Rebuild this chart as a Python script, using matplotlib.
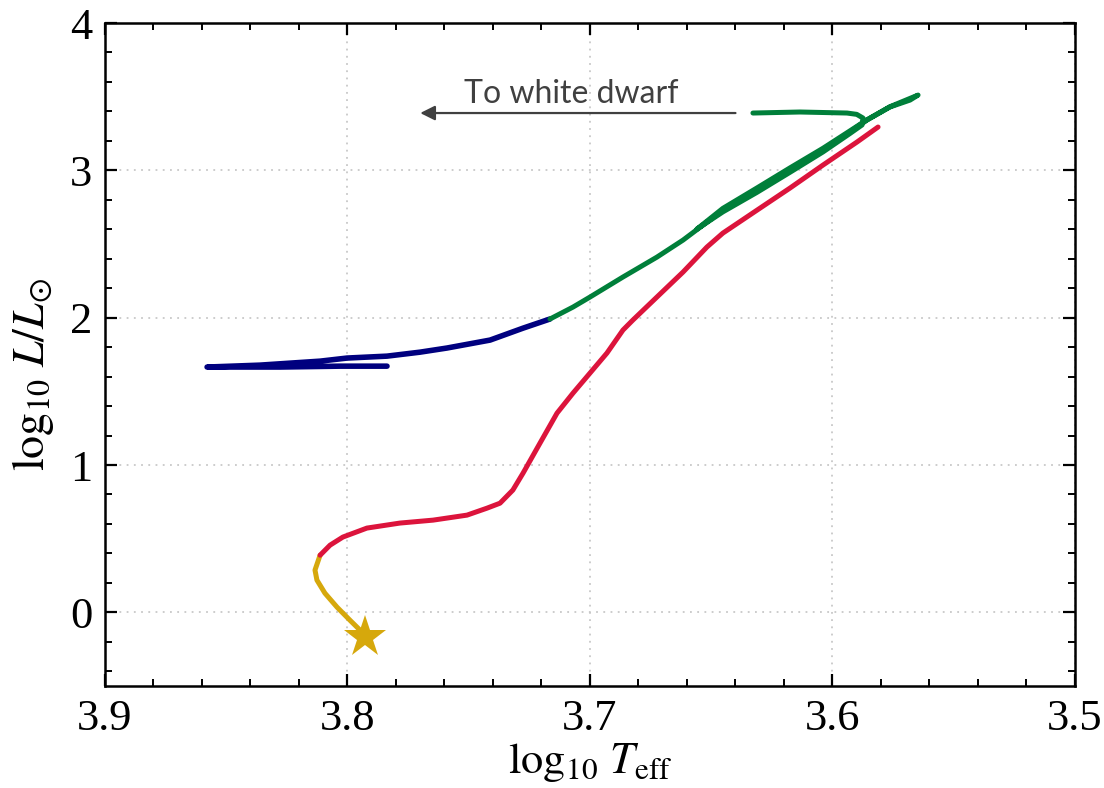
import numpy as np
import matplotlib
matplotlib.use('Agg')
import matplotlib.pyplot as plt
from matplotlib.ticker import MultipleLocator

# ── track data (log Teff, log L) ──────────────────────────────────────
# pre-main sequence -> ZAMS (yellow)
pms_logT = [3.7928, 3.7940, 3.7990, 3.8043, 3.8093, 3.8126, 3.8134, 3.8113]
pms_logL = [-0.168, -0.134, -0.053, 0.035, 0.130, 0.219, 0.287, 0.388]

# main sequence + red giant branch (red)
rgb_logT = [3.8113, 3.8072, 3.8019, 3.7920, 3.7784, 3.7647, 3.7507, 3.7425,
            3.7371, 3.7318, 3.7276, 3.7206, 3.7136, 3.7070, 3.7000, 3.6930,
            3.6864, 3.6823, 3.6724, 3.6616, 3.6518, 3.6452, 3.6311, 3.6175,
            3.6039, 3.5899, 3.5812]
rgb_logL = [0.388, 0.456, 0.511, 0.572, 0.606, 0.626, 0.660, 0.707,
            0.741, 0.830, 0.945, 1.149, 1.352, 1.488, 1.624, 1.760,
            1.916, 1.984, 2.140, 2.310, 2.479, 2.574, 2.730, 2.880,
            3.036, 3.192, 3.294]

# horizontal branch (blue)
hb_logT = [3.7837, 3.8031, 3.8278, 3.8579, 3.8361, 3.8113, 3.8002, 3.7837,
           3.7701, 3.7590, 3.7412, 3.7276, 3.7165]
hb_logL = [1.671, 1.671, 1.665, 1.665, 1.678, 1.705, 1.726, 1.739,
           1.766, 1.794, 1.848, 1.929, 1.991]

# asymptotic giant branch (thermal pulses) + post-AGB (green)
agb_logT = [3.7165, 3.7070, 3.7000, 3.6864, 3.6724, 3.6616, 3.6452,
            3.6311, 3.6175, 3.6039, 3.5928, 3.5858, 3.5763, 3.5680, 3.5647,
            3.5763, 3.5858, 3.5928, 3.6039, 3.6175, 3.6311, 3.6452, 3.6560,
            3.6452, 3.6311, 3.6175, 3.6039, 3.5928, 3.5878,
            3.5874, 3.5900, 3.5940, 3.6134, 3.6328]
agb_logL = [1.991, 2.072, 2.140, 2.276, 2.411, 2.527, 2.730,
            2.866, 3.002, 3.138, 3.260, 3.341, 3.430, 3.477, 3.511,
            3.432, 3.343, 3.268, 3.150, 3.017, 2.881, 2.742, 2.600,
            2.718, 2.851, 2.987, 3.125, 3.250, 3.308,
            3.355, 3.380, 3.389, 3.396, 3.389]

star_logT, star_logL = 3.7928, -0.168

arrow_tail = (3.640, 3.389)
arrow_head = (3.770, 3.389)
label_pos = (3.7076, 3.457)

YELLOW = '#D6A80C'
RED    = '#DC143C'
BLUE   = '#00007F'
GREEN  = '#007F3A'

plt.rcParams.update({
    'font.family':      ['Liberation Serif', 'DejaVu Serif'],
    'mathtext.fontset': 'stix',
    'xtick.direction':  'in',
    'ytick.direction':  'in',
    'xtick.top':        True,
    'ytick.right':      True,
    'xtick.labelsize':  32,
    'ytick.labelsize':  32,
    'axes.linewidth':   1.8,
})

fig = plt.figure(figsize=(11.04, 7.88), dpi=100)
ax = fig.add_axes([0.0951, 0.1294, 0.8786, 0.8414])

lw = 3.6
ax.plot(pms_logT, pms_logL, color=YELLOW, lw=lw, solid_capstyle='round',
        solid_joinstyle='round')
ax.plot(rgb_logT, rgb_logL, color=RED, lw=lw, solid_capstyle='round',
        solid_joinstyle='round')
ax.plot(hb_logT, hb_logL, color=BLUE, lw=lw + 0.4, solid_capstyle='round',
        solid_joinstyle='round')
ax.plot(agb_logT, agb_logL, color=GREEN, lw=lw, solid_capstyle='round',
        solid_joinstyle='round')
ax.plot([star_logT], [star_logL], marker='*', color=YELLOW, ms=32,
        markeredgewidth=0, zorder=5)

ax.annotate('', xy=arrow_head, xytext=arrow_tail,
            arrowprops=dict(arrowstyle='-|>', color='#404040', lw=1.6,
                            mutation_scale=22, shrinkA=0, shrinkB=0))
ax.text(*label_pos, 'To white dwarf', family='Lato', fontsize=23,
        color='#404040', ha='center', va='baseline')

ax.set_xlim(3.9, 3.5)
ax.set_ylim(-0.5, 4)
ax.xaxis.set_major_locator(MultipleLocator(0.1))
ax.xaxis.set_minor_locator(MultipleLocator(0.02))
ax.yaxis.set_major_locator(MultipleLocator(1))
ax.yaxis.set_minor_locator(MultipleLocator(0.2))
ax.set_xticks([3.9, 3.8, 3.7, 3.6, 3.5])
ax.set_xticklabels(['3.9', '3.8', '3.7', '3.6', '3.5'])
ax.tick_params(which='major', length=8.5, width=1.6, pad=9)
ax.tick_params(which='minor', length=5, width=1.4)
ax.grid(True, which='major', color='#C8C8C8', ls=(0, (1, 3)), lw=1.3)

ax.set_xlabel(r'$\log_{10}\,T_{\rm eff}$', fontsize=32, labelpad=2)
ax.set_ylabel(r'$\log_{10}\,L/L_{\odot}$', fontsize=33)
ax.yaxis.set_label_coords(-0.05, 0.47)

fig.savefig('out.png', dpi=100)
